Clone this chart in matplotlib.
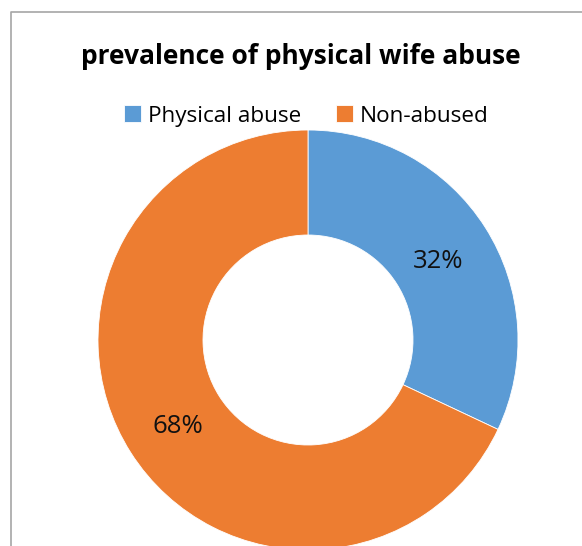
import matplotlib.pyplot as plt
from matplotlib.lines import Line2D

# data
categories = ["Physical abuse", "Non-abused"]
values = [32, 68]
colors = ["#5B9BD5", "#ED7D31"]
title = "prevalence of physical wife abuse"

W, H = 582, 546
fig = plt.figure(figsize=(W / 100, H / 100), dpi=100)
ax = fig.add_axes([0, 0, 1, 1])

wedges, texts, autotexts = ax.pie(
    values, colors=colors, startangle=90, counterclock=False,
    center=(308, H - 340), radius=210, autopct="%d%%", pctdistance=0.735,
    wedgeprops=dict(width=105, edgecolor="white", linewidth=0.6),
    textprops=dict(fontsize=18.5, family="Open Sans", color="#111111"),
    frame=True)
ax.set_xlim(0, W)
ax.set_ylim(0, H)
ax.set_aspect("equal")
ax.axis("off")
# labels sit a little lower in the original
for t in autotexts:
    x, y = t.get_position()
    t.set_position((x, y - 4))

fig.text(301 / W, 1 - 56 / H, title, ha="center", va="center",
         fontsize=19, fontweight="bold", family="Open Sans")

leg = fig.legend(wedges, categories, loc="center", bbox_to_anchor=(306 / W, 1 - 116 / H),
                 ncol=2, frameon=False, handlelength=0.75, handleheight=0.75,
                 handletextpad=0.3, columnspacing=1.55,
                 prop=dict(family="Open Sans", size=16.2))

# chart border (left and top visible)
fig.add_artist(Line2D([11 / W, 11 / W, 1], [0, 1 - 12 / H, 1 - 12 / H],
                      transform=fig.transFigure, color="#A6A6A6", linewidth=1.2))

fig.savefig("out.png", dpi=100)
